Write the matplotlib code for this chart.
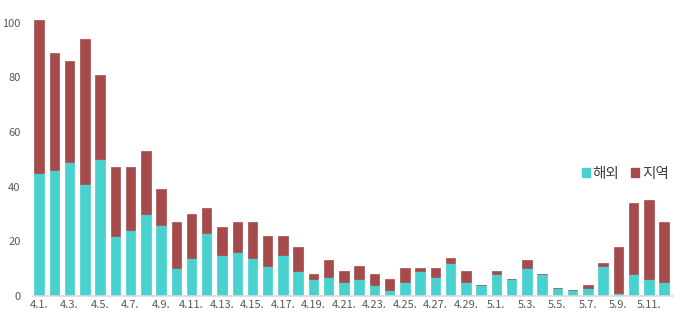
import matplotlib
matplotlib.use("Agg")
import matplotlib.pyplot as plt
import numpy as np
from matplotlib.patches import Patch

plt.rcParams['font.family'] = ['Noto Sans CJK KR', 'DejaVu Sans']

dates = ["4.1.", "4.2.", "4.3.", "4.4.", "4.5.", "4.6.", "4.7.", "4.8.", "4.9.", "4.10.",
         "4.11.", "4.12.", "4.13.", "4.14.", "4.15.", "4.16.", "4.17.", "4.18.", "4.19.", "4.20.",
         "4.21.", "4.22.", "4.23.", "4.24.", "4.25.", "4.26.", "4.27.", "4.28.", "4.29.", "4.30.",
         "5.1.", "5.2.", "5.3.", "5.4.", "5.5.", "5.6.", "5.7.", "5.8.", "5.9.", "5.10.",
         "5.11.", "5.12."]
overseas = [45, 46, 49, 41, 50, 22, 24, 30, 26, 10,
            14, 23, 15, 16, 14, 11, 15, 9, 6, 7,
            5, 6, 4, 2, 5, 9, 7, 12, 5, 4,
            8, 6, 10, 8, 3, 2, 3, 11, 1, 8,
            6, 5]
total = [101, 89, 86, 94, 81, 47, 47, 53, 39, 27,
         30, 32, 25, 27, 27, 22, 22, 18, 8, 13,
         9, 11, 8, 6, 10, 10, 10, 14, 9, 4,
         9, 6, 13, 8, 3, 2, 4, 12, 18, 34,
         35, 27]
local = [t - o for t, o in zip(total, overseas)]
series_names = ["해외", "지역"]

teal = "#48D1CF"
maroon = "#A54B4B"

fig = plt.figure(figsize=(6.8, 3.18), dpi=100)
ax = fig.add_axes([0.0485, 0.070, 0.9415, 0.893])

x = np.arange(len(dates))
ax.bar(x, overseas, width=0.62, color=teal, edgecolor=teal, linewidth=0.5)
ax.bar(x, local, width=0.62, bottom=overseas, color=maroon, edgecolor=maroon, linewidth=0.5)

ax.set_xlim(-0.4, 41.6)
ax.set_ylim(0, 104)
ax.set_yticks([0, 20, 40, 60, 80, 100])
ax.set_xticks(x[::2])
ax.set_xticklabels(dates[::2])

for s in ["top", "right", "left"]:
    ax.spines[s].set_visible(False)
ax.spines["bottom"].set_color("#D9D9D9")
ax.spines["bottom"].set_linewidth(1.2)
ax.tick_params(axis="both", length=0, labelsize=8, colors="#595959")
ax.tick_params(axis="y", pad=9)
ax.tick_params(axis="x", pad=3)

handles = [Patch(facecolor=teal, edgecolor=teal), Patch(facecolor=maroon, edgecolor=maroon)]
leg = ax.legend(handles, series_names, loc="center right", bbox_to_anchor=(1.0, 0.43),
                frameon=False, ncol=2, fontsize=10.5, handlelength=0.55, handleheight=0.55,
                handletextpad=0.2, columnspacing=0.8, labelcolor="#404040",
                borderpad=0, borderaxespad=0.3)

fig.savefig("out.png", dpi=100)
